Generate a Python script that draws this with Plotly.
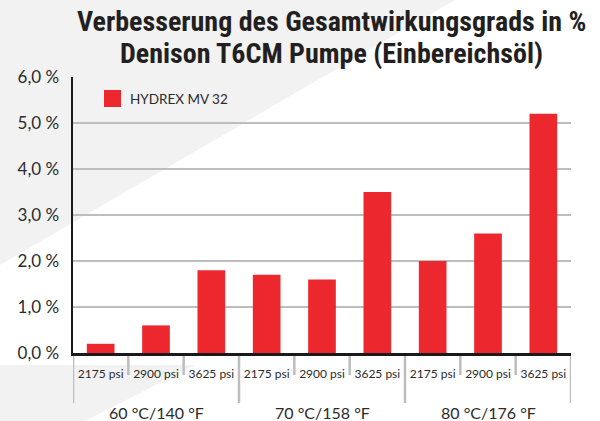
import plotly.graph_objects as go

# ---- data ----
temperatures = ["60 °C/140 °F", "70 °C/158 °F", "80 °C/176 °F"]
pressures = ["2175 psi", "2900 psi", "3625 psi"]
series_name = "HYDREX MV 32"
improvement = [0.2, 0.6, 1.8, 1.7, 1.6, 3.5, 2.0, 2.6, 5.2]
y_ticks = [0, 1, 2, 3, 4, 5, 6]
y_tick_labels = ["0,0 %", "1,0 %", "2,0 %", "3,0 %", "4,0 %", "5,0 %", "6,0 %"]

title_lines = ["Verbesserung des Gesamtwirkungsgrads in %",
               "Denison T6CM Pumpe (Einbereichsöl)"]

# ---- geometry (pixels) ----
W, H = 600, 421
L, R, T, B = 73, 571, 77, 353
pw, ph = R - L, B - T

def px(x):
    return (x - L) / pw

def py(y):
    return (B - y) / ph

x_idx = list(range(len(temperatures) * len(pressures)))
x_text = [p for _ in temperatures for p in pressures]

RED = "#ec282e"
GRID = "#bdbdbf"
TXT = "#2b2b2b"
BODY = "Lato, 'Open Sans', sans-serif"
COND = "'Liberation Sans Narrow', 'Roboto Condensed', 'DejaVu Sans Condensed', 'Arial Narrow', sans-serif"

fig = go.Figure()
fig.add_trace(go.Bar(
    x=x_idx, y=improvement, name=series_name, width=0.5,
    marker=dict(color=RED, line=dict(width=0)), showlegend=False,
))

shapes = []
# background bands
shapes.append(dict(type="path", xref="paper", yref="paper", layer="below",
                   path=f"M {px(0)},{py(0)} L {px(455)},{py(0)} L {px(0)},{py(265)} Z",
                   fillcolor="#f2f2f2", line=dict(width=0)))
shapes.append(dict(type="path", xref="paper", yref="paper", layer="below",
                   path=f"M {px(0)},{py(365)} L {px(195)},{py(365)} L {px(85)},{py(421)} L {px(0)},{py(421)} Z",
                   fillcolor="#f2f2f2", line=dict(width=0)))

# separators below the axis
n_p = len(pressures)
for i in range(len(x_idx) + 1):
    major = (i % n_p == 0)
    shapes.append(dict(type="line", xref="x", yref="paper",
                       x0=i - 0.5, x1=i - 0.5, y0=py(353), y1=py(403 if major else 375),
                       line=dict(color=GRID, width=2.5), layer="below"))

# legend marker
shapes.append(dict(type="rect", xref="paper", yref="paper",
                   x0=px(104), x1=px(121), y0=py(107), y1=py(90),
                   fillcolor=RED, line=dict(width=0)))

annotations = []
for g, t in enumerate(temperatures):
    annotations.append(dict(x=g * n_p + (n_p - 1) / 2, y=py(412), xref="x", yref="paper",
                            text=t, showarrow=False, xanchor="center", yanchor="middle",
                            font=dict(family=BODY, size=16, color=TXT)))
annotations.append(dict(x=px(128), y=py(99), xref="paper", yref="paper", text=series_name,
                        showarrow=False, xanchor="left", yanchor="middle",
                        font=dict(family=BODY, size=13.5, color=TXT)))
for k, (line, yc) in enumerate(zip(title_lines, [21, 53])):
    annotations.append(dict(x=px(331), y=py(yc), xref="paper", yref="paper", text=line,
                            showarrow=False, xanchor="center", yanchor="middle",
                            font=dict(family=COND, size=28, color="#231f20", weight="bold")))

fig.update_layout(
    width=W, height=H,
    margin=dict(l=L, r=W - R, t=T, b=H - B, pad=0),
    paper_bgcolor="white", plot_bgcolor="rgba(0,0,0,0)",
    shapes=shapes, annotations=annotations,
    xaxis=dict(range=[-0.5, len(x_idx) - 0.5], tickvals=x_idx, ticktext=x_text,
               showgrid=False, zeroline=False, showline=True, linecolor="#1a1a1a", linewidth=3,
               ticks="", ticklabelstandoff=8,
               tickfont=dict(family=BODY, size=12, color=TXT), fixedrange=True),
    yaxis=dict(range=[0, 6], tickvals=y_ticks, ticktext=y_tick_labels,
               showgrid=True, gridcolor=GRID, gridwidth=2, zeroline=False,
               showline=True, linecolor="#1a1a1a", linewidth=2.5, ticks="",
               ticklabelstandoff=8,
               tickfont=dict(family=BODY, size=17, color=TXT), fixedrange=True),
    bargap=0.5,
)

fig.write_html("out.html", config={"displayModeBar": False, "staticPlot": True})
with open("out.html", "r", encoding="utf-8") as f:
    html = f.read()
html = html.replace("<head>", "<head><style>html,body{margin:0;padding:0;overflow:hidden;}</style>", 1)
with open("out.html", "w", encoding="utf-8") as f:
    f.write(html)
